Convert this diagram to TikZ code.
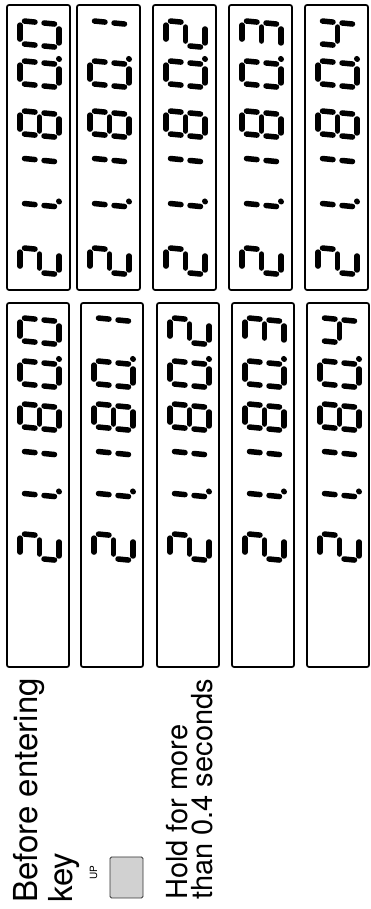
\documentclass[tikz,border=0pt]{standalone}
\usepackage{fontspec}
\setmainfont{TeX Gyre Heros}
\usepackage{tikz}
\usetikzlibrary{positioning}
\tikzset{
  dispbox/.style={rectangle, draw=black, line width=1.7pt, rounded corners=2pt,
                  outer sep=0pt, inner sep=0pt},
  upbox/.style={dispbox, minimum width=63pt, minimum height=285pt},
  lowbox/.style={dispbox, minimum width=62pt, minimum height=364pt},
  lcdseg/.style={line width=5.5pt, line cap=round},
  bigtxt/.style={rotate=90, anchor=base west, inner sep=0pt,
                 font=\fontsize{33}{33}\selectfont},
  midtxt/.style={rotate=90, anchor=base west, inner sep=0pt,
                 font=\fontsize{29}{29}\selectfont},
  smalltxt/.style={rotate=90, anchor=base west, inner sep=0pt,
                   font=\fontsize{10}{10}\selectfont},
  keycap/.style={rectangle, draw=black!80, line width=0.8pt, rounded corners=1.5pt,
                 fill=black!18, minimum width=33pt, minimum height=41pt},
}
% seven segments of one digit, 23 x 39, read upright
\def\lcdsega{(4.5,39) -- (18.5,39)}
\def\lcdsegb{(23,34.5) -- (23,24)}
\def\lcdsegc{(23,15) -- (23,4.5)}
\def\lcdsegd{(4.5,0) -- (18.5,0)}
\def\lcdsege{(0,15) -- (0,4.5)}
\def\lcdsegf{(0,34.5) -- (0,24)}
\def\lcdsegg{(4.5,19.5) -- (18.5,19.5)}
\def\lcdnum#1{\ifcase#1 a,b,c,d,e,f\or b,c\or a,b,g,e,d\or a,b,c,d,g\or b,c,f,g\or
  a,f,g,c,d\or a,f,g,e,d,c\or a,b,c\or a,b,c,d,e,f,g\or a,b,c,d,f,g\fi}
\newcommand{\lcddigit}[3]{% offset, digit, decimal point
  \begin{scope}[xshift=#1pt, xslant=0.1]
    \edef\lcdlist{\lcdnum{#2}}
    \foreach \s in \lcdlist {\edef\lcdtmp{\noexpand\draw[lcdseg] \csname lcdseg\s\endcsname;}\lcdtmp}
    \ifnum#3=1 \fill (28.5,0) circle[radius=3]; \fi
  \end{scope}}

\begin{document}
\begin{tikzpicture}[x=1pt, y=1pt]
  \useasboundingbox (0,0) rectangle (370,909);

  % upper row of displays
  \node[upbox] (up0) at (38.5,761.5) {};
  \node[upbox, right=7pt of up0]  (up1) {};
  \node[upbox, right=13pt of up1] (up2) {};
  \node[upbox, right=13pt of up2] (up3) {};
  \node[upbox, right=13pt of up3] (up4) {};

  % lower row of displays
  \node[lowbox] (low0) at (38,424) {};
  \node[lowbox, right=12pt of low0] (low1) {};
  \node[lowbox, right=14pt of low1] (low2) {};
  \node[lowbox, right=13pt of low2] (low3) {};
  \node[lowbox, right=13pt of low3] (low4) {};

  \foreach \n in {0,...,4} {
    \begin{scope}[shift={(up\n.north west)}, xshift=52pt, rotate=90]
      \lcddigit{-269.5}{2}{0}
      \lcddigit{-225}{1}{1}
      \lcddigit{-180}{1}{0}
      \lcddigit{-132.5}{8}{0}
      \lcddigit{-82.5}{0}{1}
      \lcddigit{-42.5}{\n}{0}
    \end{scope}
    \begin{scope}[shift={(low\n.north west)}, xshift=52pt, rotate=90]
      \lcddigit{-257.5}{2}{0}
      \lcddigit{-217}{1}{1}
      \lcddigit{-175}{1}{0}
      \lcddigit{-127.5}{8}{0}
      \lcddigit{-84.5}{0}{1}
      \lcddigit{-41.5}{\n}{0}
    \end{scope}
  }

  % captions
  \node[bigtxt] (before) at (37,6) {Before entering};
  \node[bigtxt] (keyword) at (72,6) {key};
  \node[smalltxt] (uplabel) at (97,29) {UP};
  \node[keycap] (upkey) at (126.5,31.5) {};
  \node[midtxt] (hold) at (187,9) {Hold for more};
  \node[midtxt] (than) at (212,9) {than 0.4 seconds};

\end{tikzpicture}
\end{document}
